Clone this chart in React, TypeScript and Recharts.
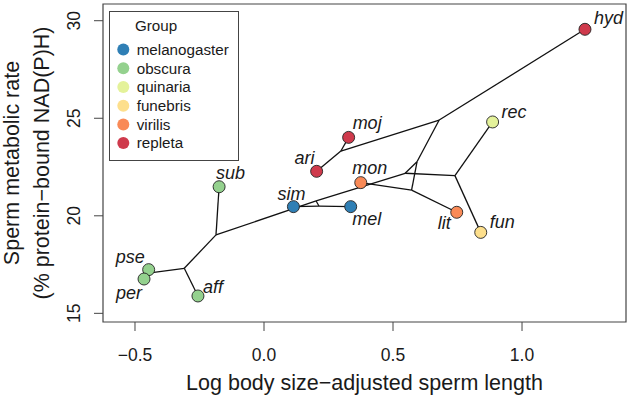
import React from "react";
import { ScatterChart, Scatter, XAxis, YAxis, ReferenceArea, Legend } from "recharts";

// tips (species)
const tipNames = ["hyd", "moj", "ari", "mon", "lit", "rec", "fun", "sim", "mel", "sub", "pse", "per", "aff"];
const tipX = [1.244, 0.328, 0.204, 0.375, 0.747, 0.886, 0.84, 0.114, 0.336, -0.174, -0.447, -0.465, -0.256];
const tipY = [29.56, 24.02, 22.28, 21.7, 20.18, 24.81, 19.15, 20.47, 20.47, 21.49, 17.24, 16.76, 15.89];
const tipGroup = ["repleta", "repleta", "repleta", "virilis", "virilis", "quinaria", "funebris", "melanogaster", "melanogaster", "obscura", "obscura", "obscura", "obscura"];

// internal nodes of the tree
const nodeNames = ["C", "A", "B", "R", "E", "D", "K", "L", "G", "J", "H"];
const nodeX = [-0.434, -0.309, -0.186, 0.202, 0.213, 0.547, 0.74, 0.593, 0.679, 0.572, 0.298];
const nodeY = [17.09, 17.31, 19.02, 20.76, 20.5, 22.18, 22.06, 22.77, 24.91, 21.32, 23.32];

const edges = [
  ["C", "pse"], ["C", "per"], ["A", "C"], ["A", "aff"], ["B", "A"], ["B", "sub"],
  ["B", "R"], ["R", "E"], ["E", "sim"], ["E", "mel"], ["R", "D"],
  ["D", "K"], ["K", "rec"], ["K", "fun"], ["D", "L"], ["L", "G"], ["L", "J"],
  ["J", "mon"], ["J", "lit"], ["G", "hyd"], ["G", "H"], ["H", "moj"], ["H", "ari"],
];

const groups = ["melanogaster", "obscura", "quinaria", "funebris", "virilis", "repleta"];
const groupColors = ["#2f7fb5", "#94d18e", "#e4f29a", "#fddf8c", "#f98a57", "#cf3a4c"];

const xTicks = [-0.5, 0, 0.5, 1];
const yTicks = [15, 20, 25, 30];
const xDomain = [-0.624, 1.403];
const yDomain = [14.556, 30.857];

// label placement next to each tip (px)
const labelPos: Record<string, { dx: number; dy: number; anchor: string }> = {
  hyd: { dx: 9, dy: -5, anchor: "start" },
  rec: { dx: 9, dy: -4, anchor: "start" },
  moj: { dx: 4, dy: -8, anchor: "start" },
  ari: { dx: -2, dy: -7, anchor: "end" },
  mon: { dx: 9, dy: -9, anchor: "middle" },
  sim: { dx: -2, dy: -7, anchor: "middle" },
  mel: { dx: 16, dy: 18, anchor: "middle" },
  lit: { dx: -6, dy: 17, anchor: "end" },
  fun: { dx: 9, dy: -4, anchor: "start" },
  sub: { dx: -3, dy: -8, anchor: "start" },
  pse: { dx: -4, dy: -7, anchor: "end" },
  per: { dx: -2, dy: 20, anchor: "end" },
  aff: { dx: 5, dy: -3, anchor: "start" },
};

const FONT = "'Liberation Sans', Arial, Helvetica, sans-serif";
const INK = "#1a1a1a";

const pointOf = (name: string) => {
  const t = tipNames.indexOf(name);
  if (t >= 0) return { x: tipX[t], y: tipY[t] };
  const n = nodeNames.indexOf(name);
  return { x: nodeX[n], y: nodeY[n] };
};

const edgeData = edges.map(([a, b]) => [pointOf(a), pointOf(b)]);

const tipsByGroup = groups.map((g) =>
  tipNames
    .map((name, i) => ({ name, x: tipX[i], y: tipY[i], group: tipGroup[i] }))
    .filter((d) => d.group === g)
);

const TipShape = (props: any) => {
  const { cx, cy, payload, fill } = props;
  const lp = labelPos[payload.name];
  return (
    <g>
      <circle cx={cx} cy={cy} r={6} fill={fill} stroke="#222" strokeWidth={0.9} />
      <text
        x={cx + lp.dx}
        y={cy + lp.dy}
        textAnchor={lp.anchor}
        fontStyle="italic"
        fontSize={18}
        fontFamily={FONT}
        fill={INK}
      >
        {payload.name}
      </text>
    </g>
  );
};

const XTick = (props: any) => {
  const { x, y, payload } = props;
  const v = payload.value;
  const s = (v < 0 ? "\u2212" : "") + Math.abs(v).toFixed(1);
  return (
    <text x={x} y={y} textAnchor="middle" fontSize={17.5} fontFamily={FONT} fill={INK}>
      {s}
    </text>
  );
};

const YTick = (props: any) => {
  const { x, y, payload } = props;
  return (
    <text
      x={x}
      y={y}
      transform={`rotate(-90, ${x}, ${y})`}
      textAnchor="middle"
      fontSize={17.5}
      fontFamily={FONT}
      fill={INK}
    >
      {payload.value}
    </text>
  );
};

const GroupLegend = () => (
  <svg width={130} height={150} style={{ display: "block" }}>
    <rect x={0.5} y={0.5} width={129} height={149} fill="#fff" stroke="#444" />
    <text x={26} y={19.5} fontSize={15.2} fontFamily={FONT} fill={INK}>
      Group
    </text>
    {groups.map((g, i) => (
      <g key={g}>
        <circle cx={14.3} cy={38.6 + 18.7 * i} r={6} fill={groupColors[i]} />
        <text x={27.7} y={38.6 + 18.7 * i + 5.3} fontSize={15.2} fontFamily={FONT} fill={INK}>
          {g}
        </text>
      </g>
    ))}
  </svg>
);

const App = () => {
  return (
    <div style={{ position: "absolute", left: 0, top: 0, background: "#fff" }}>
      <ScatterChart width={633} height={395} margin={{ top: 4, right: 7, left: 0, bottom: 0 }}>
        <XAxis
          type="number"
          dataKey="x"
          domain={xDomain}
          ticks={xTicks}
          allowDataOverflow
          axisLine={false}
          tickSize={9}
          tickMargin={30}
          tickLine={{ stroke: "#444" }}
          tick={<XTick />}
          height={73}
          label={{
            content: () => (
              <text x={364.5} y={390} textAnchor="middle" fontSize={21.5} fontFamily={FONT} fill={INK}>
                Log body size{"\u2212"}adjusted sperm length
              </text>
            ),
          }}
        />
        <YAxis
          type="number"
          dataKey="y"
          domain={yDomain}
          ticks={yTicks}
          allowDataOverflow
          axisLine={false}
          tickSize={9}
          tickMargin={14}
          tickLine={{ stroke: "#444" }}
          tick={<YTick />}
          width={103}
          label={{
            content: () => (
              <g>
                <text
                  x={18.7}
                  y={163}
                  transform="rotate(-90, 18.7, 163)"
                  textAnchor="middle"
                  fontSize={21.5}
                  fontFamily={FONT}
                  fill={INK}
                >
                  Sperm metabolic rate
                </text>
                <text
                  x={48.7}
                  y={163}
                  transform="rotate(-90, 48.7, 163)"
                  textAnchor="middle"
                  fontSize={21.5}
                  fontFamily={FONT}
                  fill={INK}
                >
                  (% protein{"\u2212"}bound NAD(P)H)
                </text>
              </g>
            ),
          }}
        />
        <ReferenceArea
          x1={xDomain[0]}
          x2={xDomain[1]}
          y1={yDomain[0]}
          y2={yDomain[1]}
          fill="none"
          stroke="#444"
          strokeWidth={1.2}
          ifOverflow="visible"
        />
        {edgeData.map((d, i) => (
          <Scatter
            key={`e${i}`}
            data={d}
            line={{ stroke: "#111", strokeWidth: 1.3 }}
            shape={() => <g />}
            legendType="none"
            isAnimationActive={false}
          />
        ))}
        {groups.map((g, i) => (
          <Scatter
            key={g}
            name={g}
            data={tipsByGroup[i]}
            fill={groupColors[i]}
            shape={<TipShape />}
            isAnimationActive={false}
          />
        ))}
        <Legend
          layout="vertical"
          align="center"
          verticalAlign="middle"
          wrapperStyle={{ left: 109, top: 11, width: 130, height: 150 }}
          content={() => <GroupLegend />}
        />
      </ScatterChart>
    </div>
  );
};

export default App;
